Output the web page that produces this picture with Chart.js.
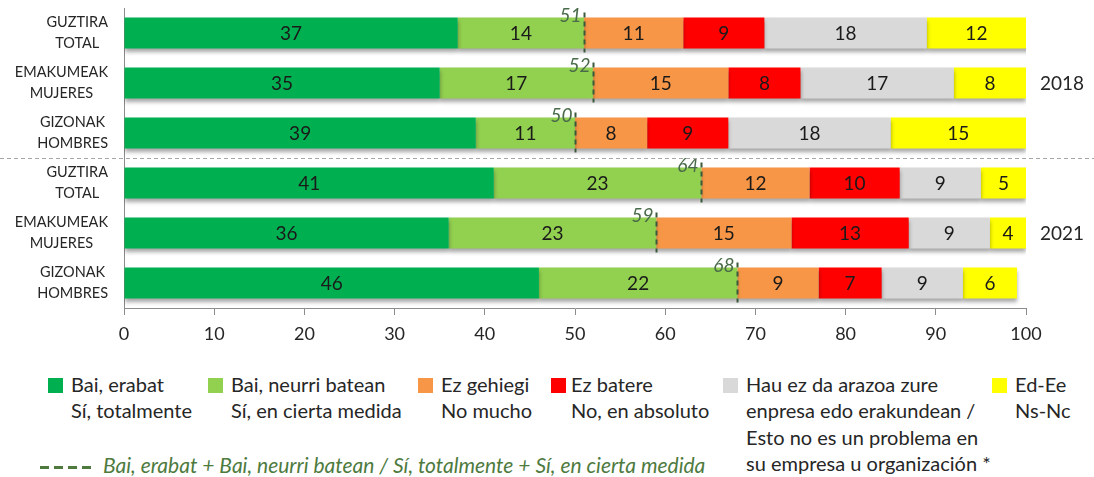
<!DOCTYPE html>
<html>
<head>
<meta charset="utf-8">
<script src="https://cdn.jsdelivr.net/npm/chart.js@4.4.1/dist/chart.umd.min.js"></script>
<style>
  body { margin: 0; background: #fff; font-family: Lato, "Open Sans", sans-serif; }
  #wrap { position: relative; width: 1094px; height: 477px; overflow: hidden; }
  #chart { position: absolute; left: 0; top: 0; }
  .lg-item { position: absolute; top: 371px; color: #262626; font-size: 20px; line-height: 26.3px; white-space: nowrap; }
  .lg-box { position: absolute; top: 7px; width: 15px; height: 15px; }
  .lg-text { position: absolute; top: 0; }
  #lg-total { position: absolute; left: 40px; top: 452px; color: #4e7a3e; font-style: italic; font-size: 21px; line-height: 26px; white-space: nowrap; }
  #lg-total .dash { display: inline-block; width: 54px; height: 3px; vertical-align: middle; margin-right: 9px;
    background: repeating-linear-gradient(90deg, #4e7a3e 0 9px, transparent 9px 14px); }
</style>
</head>
<body>
<div id="wrap">
  <canvas id="chart" width="1094" height="350"></canvas>
  <div id="legend"></div>
  <div id="lg-total"><span class="dash"></span><span id="lg-total-text"></span></div>
</div>
<script>
const categories = [
  ["GUZTIRA", "TOTAL"], ["EMAKUMEAK", "MUJERES"], ["GIZONAK", "HOMBRES"],
  ["GUZTIRA", "TOTAL"], ["EMAKUMEAK", "MUJERES"], ["GIZONAK", "HOMBRES"]
];
const years = ["2018", "2021"];
const yearRows = [1, 4];

const seriesNames = [
  ["Bai, erabat", "Sí, totalmente"],
  ["Bai, neurri batean", "Sí, en cierta medida"],
  ["Ez gehiegi", "No mucho"],
  ["Ez batere", "No, en absoluto"],
  ["Hau ez da arazoa zure", "enpresa edo erakundean /", "Esto no es un problema en", "su empresa u organización *"],
  ["Ed-Ee", "Ns-Nc"]
];
const seriesColors = ["#00b050", "#92d050", "#f79646", "#ff0000", "#d9d9d9", "#ffff00"];

const baiErabat = [37, 35, 39, 41, 36, 46];
const baiNeurri = [14, 17, 11, 23, 23, 22];
const ezGehiegi = [11, 15, 8, 12, 15, 9];
const ezBatere = [9, 8, 9, 10, 13, 7];
const ezArazoa = [18, 17, 18, 9, 9, 9];
const edEe = [12, 8, 15, 5, 4, 6];

const baiTotal = [51, 52, 50, 64, 59, 68];
const baiTotalLabel = "Bai, erabat + Bai, neurri batean / Sí, totalmente + Sí, en cierta medida";

const xTicks = [0, 10, 20, 30, 40, 50, 60, 70, 80, 90, 100];

const seriesValues = [baiErabat, baiNeurri, ezGehiegi, ezBatere, ezArazoa, edEe];

const FONT = "Lato, 'Open Sans', sans-serif";

// sombra debajo de las barras, como en el original
const shadowPlugin = {
  id: 'barShadow',
  beforeDatasetsDraw(chart) {
    const ctx = chart.ctx;
    ctx.save();
    ctx.shadowColor = 'rgba(0,0,0,0.35)';
    ctx.shadowBlur = 4;
    ctx.shadowOffsetY = 3;
  },
  afterDatasetsDraw(chart) {
    chart.ctx.restore();
  }
};

const overlayPlugin = {
  id: 'overlay',
  afterDatasetsDraw(chart) {
    const ctx = chart.ctx;
    const x = chart.scales.x;
    const area = chart.chartArea;

    // valores dentro de las barras
    ctx.save();
    ctx.font = "19px " + FONT;
    ctx.fillStyle = '#1a1a1a';
    ctx.textAlign = 'center';
    ctx.textBaseline = 'middle';
    chart.data.datasets.forEach((ds, i) => {
      chart.getDatasetMeta(i).data.forEach((bar, j) => {
        const left = Math.max(Math.min(bar.x, bar.base), area.left);
        const right = Math.min(Math.max(bar.x, bar.base), area.right);
        ctx.fillText(ds.data[j], (left + right) / 2, bar.y + 1);
      });
    });
    ctx.restore();

    // línea discontinua de "Bai" total
    const meta = chart.getDatasetMeta(0);
    ctx.save();
    baiTotal.forEach((v, j) => {
      const px = Math.round(x.getPixelForValue(v)) + 0.5;
      const bar = meta.data[j];
      const top = bar.y - bar.height / 2;
      const bottom = bar.y + bar.height / 2;
      ctx.strokeStyle = '#3b5a3b';
      ctx.lineWidth = 2;
      ctx.setLineDash([5, 4]);
      ctx.beginPath();
      ctx.moveTo(px, top - 5);
      ctx.lineTo(px, bottom + 4);
      ctx.stroke();
      ctx.font = "italic 19px " + FONT;
      ctx.fillStyle = '#4a6b4a';
      ctx.textAlign = 'right';
      ctx.textBaseline = 'middle';
      ctx.fillText(v, px - 3, top - 2);
    });
    ctx.restore();
  },
  afterDraw(chart) {
    const ctx = chart.ctx;
    const y = chart.scales.y;
    const area = chart.chartArea;

    // etiquetas del eje Y: bloque alineado a la derecha, líneas centradas
    ctx.save();
    ctx.font = "14.5px " + FONT;
    ctx.fillStyle = '#262626';
    ctx.textAlign = 'center';
    ctx.textBaseline = 'middle';
    categories.forEach((lines, i) => {
      const cy = y.getPixelForValue(i);
      const w = Math.max(...lines.map(l => ctx.measureText(l).width));
      const cx = 108 - w / 2;
      lines.forEach((l, k) => {
        ctx.fillText(l, cx, cy + (k - (lines.length - 1) / 2) * 21);
      });
    });

    // años a la derecha
    ctx.font = "19px " + FONT;
    ctx.textAlign = 'left';
    years.forEach((t, i) => {
      ctx.fillText(t, area.right + 14, y.getPixelForValue(yearRows[i]) + 1);
    });

    // separador entre años
    const sy = Math.round((y.getPixelForValue(2) + y.getPixelForValue(3)) / 2) + 0.5;
    ctx.strokeStyle = '#a6a6a6';
    ctx.lineWidth = 1;
    ctx.setLineDash([4, 3]);
    ctx.beginPath();
    ctx.moveTo(0, sy);
    ctx.lineTo(chart.width, sy);
    ctx.stroke();
    ctx.restore();
  }
};

const chart = new Chart(document.getElementById('chart'), {
  type: 'bar',
  data: {
    labels: categories,
    datasets: seriesValues.map((vals, i) => ({
      label: seriesNames[i].join(' '),
      data: vals,
      backgroundColor: seriesColors[i],
      borderWidth: 0,
      categoryPercentage: 1,
      barPercentage: 0.62,
      clip: 0
    }))
  },
  options: {
    indexAxis: 'y',
    responsive: false,
    animation: false,
    events: [],
    layout: { padding: { top: 8, right: 68, bottom: 0, left: 0 } },
    plugins: {
      legend: { display: false },
      tooltip: { enabled: false }
    },
    scales: {
      x: {
        stacked: true,
        min: 0,
        max: 100,
        afterBuildTicks: (scale) => {
          scale.ticks = xTicks.map(v => ({ value: v }));
        },
        afterFit: (scale) => { scale.height = 42; },
        grid: { drawOnChartArea: false, drawTicks: true, tickLength: 7, color: '#8c8c8c' },
        border: { display: true, color: '#8c8c8c', width: 1 },
        ticks: { color: '#262626', font: { family: FONT, size: 18 }, padding: 8, maxRotation: 0 }
      },
      y: {
        stacked: true,
        afterFit: (scale) => { scale.width = 124; },
        grid: { display: false },
        border: { display: true, color: '#8c8c8c', width: 1 },
        ticks: { display: false }
      }
    }
  },
  plugins: [shadowPlugin, overlayPlugin]
});

// leyenda en HTML (texto en varias líneas)
const legendX = [48, 208, 418, 551, 723, 992];
document.getElementById('legend').innerHTML = seriesNames.map((lines, i) => `
  <div class="lg-item" style="left:${legendX[i]}px">
    <div class="lg-box" style="background:${seriesColors[i]}"></div>
    <div class="lg-text" style="left:${i === 3 ? 20 : 23}px">${lines.join('<br>')}</div>
  </div>
`).join('');
document.getElementById('lg-total-text').textContent = baiTotalLabel;
</script>
</body>
</html>
